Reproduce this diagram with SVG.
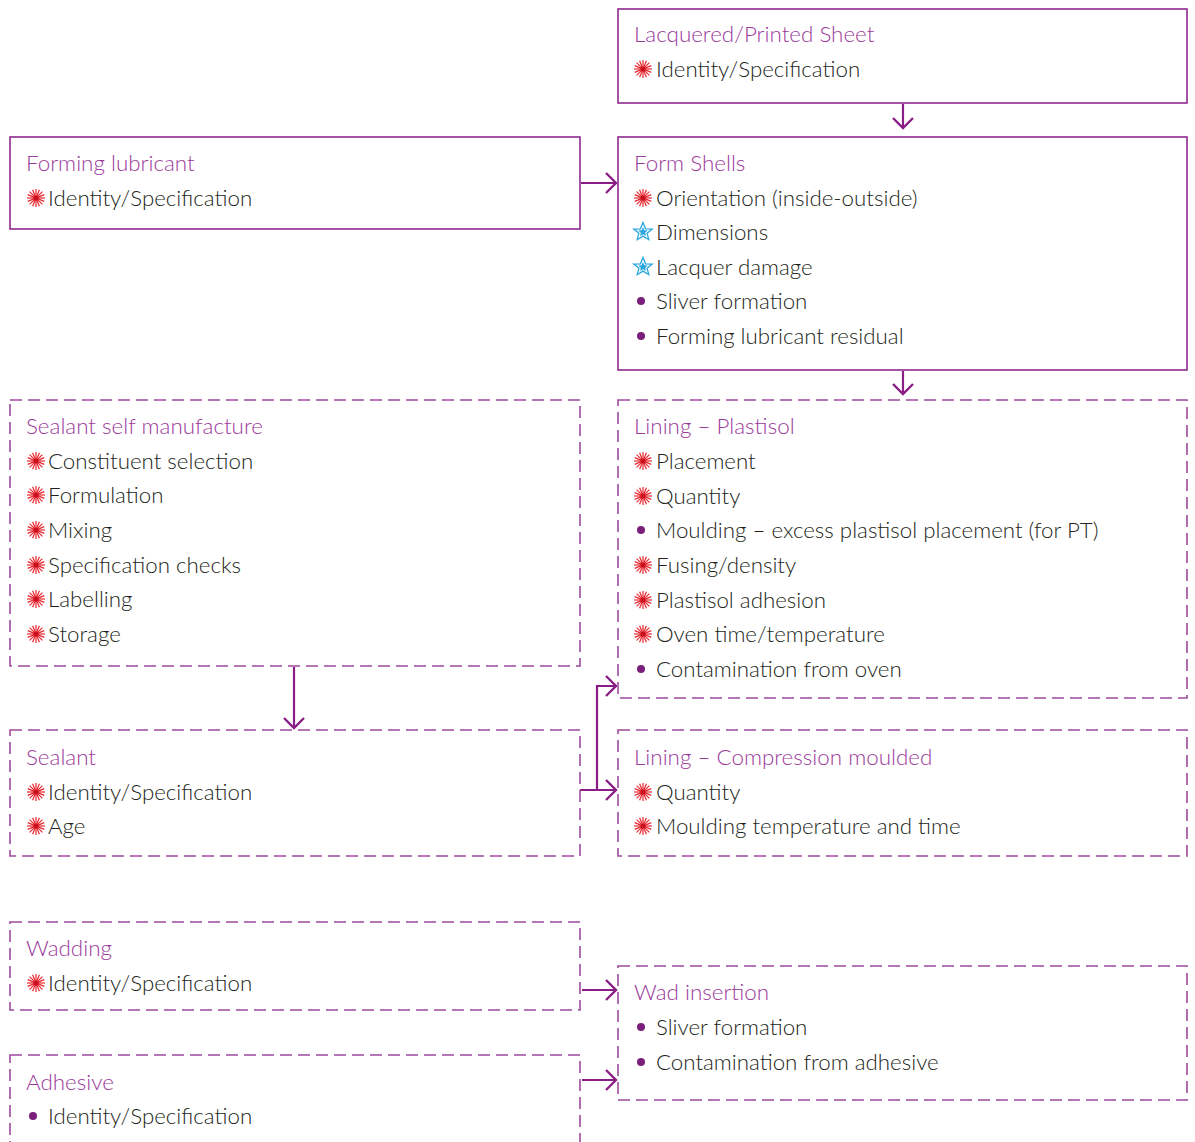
<svg xmlns="http://www.w3.org/2000/svg" width="1195" height="1142" viewBox="0 0 1195 1142">
<style>
.box{fill:#fff;stroke:#8E2A8E;stroke-width:1.6}
.dbox{fill:#fff;stroke:#9C4A9C;stroke-width:1.6;stroke-dasharray:12 6}
.title{font-family:Lato,"Liberation Sans",sans-serif;font-weight:300;font-size:22.4px;fill:#9B3A9B}
.item{font-family:Lato,"Liberation Sans",sans-serif;font-weight:300;font-size:22.3px;fill:#231F20}
.conn{fill:none;stroke:#8A1E86;stroke-width:2.2}
.dot{fill:#7A1F7A}
</style>
<defs>
<marker id="arr" markerUnits="userSpaceOnUse" markerWidth="24" markerHeight="24" viewBox="-12 -12 24 24" refX="0" refY="0" orient="auto">
<path d="M-10,-10 L0,0 L-10,10" fill="none" stroke="#8A1E86" stroke-width="2.4"/>
</marker>
<g id="burst">
<g stroke="#E8262E" stroke-width="1.2">
<line x1="-9" y1="0" x2="9" y2="0"/>
<line x1="0" y1="-9" x2="0" y2="9"/>
<line x1="-6.4" y1="-6.4" x2="6.4" y2="6.4"/>
<line x1="-6.4" y1="6.4" x2="6.4" y2="-6.4"/>
<line x1="-8.3" y1="-3.4" x2="8.3" y2="3.4"/>
<line x1="-8.3" y1="3.4" x2="8.3" y2="-3.4"/>
<line x1="-3.4" y1="-8.3" x2="3.4" y2="8.3"/>
<line x1="-3.4" y1="8.3" x2="3.4" y2="-8.3"/>
</g>
<circle r="2.6" fill="#C8101E"/>
</g>
<g id="star">
<path d="M0,-9.5 L2.6,-3.2 L9.2,-2.9 L4.1,1.3 L5.8,7.7 L0,4.1 L-5.8,7.7 L-4.1,1.3 L-9.2,-2.9 L-2.6,-3.2 Z" fill="none" stroke="#29A6DE" stroke-width="1.3"/>
<path d="M0,-5 L1.4,-1.7 L4.8,-1.5 L2.2,0.7 L3,4 L0,2.2 L-3,4 L-2.2,0.7 L-4.8,-1.5 L-1.4,-1.7 Z" fill="#29A6DE"/>
</g>
</defs>

<g id="connectors">
<line class="conn" x1="903" y1="104" x2="903" y2="128" marker-end="url(#arr)"/>
<line class="conn" x1="581" y1="183" x2="616" y2="183" marker-end="url(#arr)"/>
<line class="conn" x1="903" y1="371" x2="903" y2="394" marker-end="url(#arr)"/>
<line class="conn" x1="294" y1="667" x2="294" y2="728" marker-end="url(#arr)"/>
<line class="conn" x1="580" y1="790" x2="616" y2="790" marker-end="url(#arr)"/>
<polyline class="conn" points="597,790 597,686 616,686" marker-end="url(#arr)"/>
<line class="conn" x1="582" y1="990" x2="616" y2="990" marker-end="url(#arr)"/>
<line class="conn" x1="582" y1="1080" x2="616" y2="1080" marker-end="url(#arr)"/>
</g>

<g id="lacquered">
<rect class="box" x="618" y="9" width="569" height="94"/>
<text class="title" x="634" y="42">Lacquered/Printed Sheet</text>
<use href="#burst" x="643" y="69"/>
<text class="item" x="656" y="77">Identity/Specification</text>
</g>

<g id="forming-lubricant">
<rect class="box" x="10" y="137" width="570" height="92"/>
<text class="title" x="26" y="171">Forming lubricant</text>
<use href="#burst" x="36" y="198"/>
<text class="item" x="48" y="206">Identity/Specification</text>
</g>

<g id="form-shells">
<rect class="box" x="618" y="137" width="569" height="233"/>
<text class="title" x="634" y="171">Form Shells</text>
<use href="#burst" x="643" y="198"/>
<text class="item" x="656" y="206">Orientation (inside-outside)</text>
<use href="#star" x="643" y="232"/>
<text class="item" x="656" y="240">Dimensions</text>
<use href="#star" x="643" y="267"/>
<text class="item" x="656" y="275">Lacquer damage</text>
<circle class="dot" cx="641" cy="301" r="4"/>
<text class="item" x="656" y="309">Sliver formation</text>
<circle class="dot" cx="641" cy="336" r="4"/>
<text class="item" x="656" y="344">Forming lubricant residual</text>
</g>

<g id="sealant-self-manufacture">
<rect class="dbox" x="10" y="400" width="570" height="266"/>
<text class="title" x="26" y="434">Sealant self manufacture</text>
<use href="#burst" x="36" y="461"/>
<text class="item" x="48" y="469">Constituent selection</text>
<use href="#burst" x="36" y="495"/>
<text class="item" x="48" y="503">Formulation</text>
<use href="#burst" x="36" y="530"/>
<text class="item" x="48" y="538">Mixing</text>
<use href="#burst" x="36" y="565"/>
<text class="item" x="48" y="573">Specification checks</text>
<use href="#burst" x="36" y="599"/>
<text class="item" x="48" y="607">Labelling</text>
<use href="#burst" x="36" y="634"/>
<text class="item" x="48" y="642">Storage</text>
</g>

<g id="lining-plastisol">
<rect class="dbox" x="618" y="400" width="569" height="298"/>
<text class="title" x="634" y="434">Lining – Plastisol</text>
<use href="#burst" x="643" y="461"/>
<text class="item" x="656" y="469">Placement</text>
<use href="#burst" x="643" y="496"/>
<text class="item" x="656" y="504">Quantity</text>
<circle class="dot" cx="641" cy="530" r="4"/>
<text class="item" x="656" y="538">Moulding – excess plastisol placement (for PT)</text>
<use href="#burst" x="643" y="565"/>
<text class="item" x="656" y="573">Fusing/density</text>
<use href="#burst" x="643" y="600"/>
<text class="item" x="656" y="608">Plastisol adhesion</text>
<use href="#burst" x="643" y="634"/>
<text class="item" x="656" y="642">Oven time/temperature</text>
<circle class="dot" cx="641" cy="669" r="4"/>
<text class="item" x="656" y="677">Contamination from oven</text>
</g>

<g id="sealant">
<rect class="dbox" x="10" y="730" width="570" height="126"/>
<text class="title" x="26" y="765">Sealant</text>
<use href="#burst" x="36" y="792"/>
<text class="item" x="48" y="800">Identity/Specification</text>
<use href="#burst" x="36" y="826"/>
<text class="item" x="48" y="834">Age</text>
</g>

<g id="lining-compression">
<rect class="dbox" x="618" y="730" width="569" height="126"/>
<text class="title" x="634" y="765">Lining – Compression moulded</text>
<use href="#burst" x="643" y="792"/>
<text class="item" x="656" y="800">Quantity</text>
<use href="#burst" x="643" y="826"/>
<text class="item" x="656" y="834">Moulding temperature and time</text>
</g>

<g id="wadding">
<rect class="dbox" x="10" y="922" width="570" height="88"/>
<text class="title" x="26" y="956">Wadding</text>
<use href="#burst" x="36" y="983"/>
<text class="item" x="48" y="991">Identity/Specification</text>
</g>

<g id="wad-insertion">
<rect class="dbox" x="618" y="966" width="569" height="134"/>
<text class="title" x="634" y="1000">Wad insertion</text>
<circle class="dot" cx="641" cy="1027" r="4"/>
<text class="item" x="656" y="1035">Sliver formation</text>
<circle class="dot" cx="641" cy="1062" r="4"/>
<text class="item" x="656" y="1070">Contamination from adhesive</text>
</g>

<g id="adhesive">
<rect class="dbox" x="10" y="1055" width="570" height="100"/>
<text class="title" x="26" y="1090">Adhesive</text>
<circle class="dot" cx="33" cy="1116" r="4"/>
<text class="item" x="48" y="1124">Identity/Specification</text>
</g>
</svg>
